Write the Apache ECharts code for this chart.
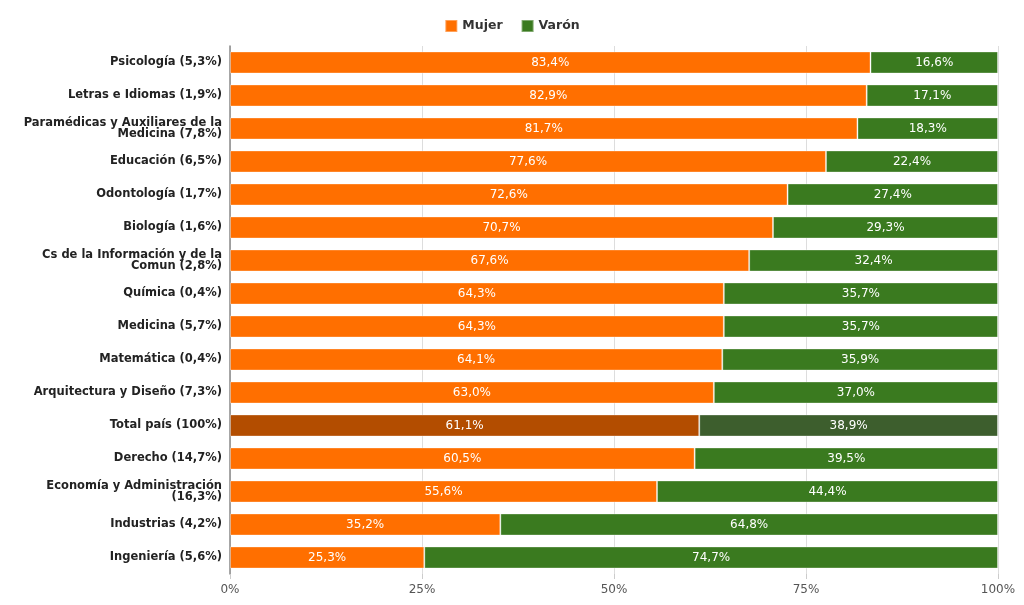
<!DOCTYPE html>
<html><head><meta charset="utf-8">
<script src="https://cdn.jsdelivr.net/npm/echarts@6/dist/echarts.min.js"></script>
<style>html,body{margin:0;padding:0;background:#fff}#c{width:1024px;height:605px}</style>
</head><body><div id="c"></div>
<script>
const categories = [
  "Psicología (5,3%)",
  "Letras e Idiomas (1,9%)",
  "Paramédicas y Auxiliares de la\nMedicina (7,8%)",
  "Educación (6,5%)",
  "Odontología (1,7%)",
  "Biología (1,6%)",
  "Cs de la Información y de la\nComun (2,8%)",
  "Química (0,4%)",
  "Medicina (5,7%)",
  "Matemática (0,4%)",
  "Arquitectura y Diseño (7,3%)",
  "Total país (100%)",
  "Derecho (14,7%)",
  "Economía y Administración\n(16,3%)",
  "Industrias (4,2%)",
  "Ingeniería (5,6%)"
];
const mujer = [83.4,82.9,81.7,77.6,72.6,70.7,67.6,64.3,64.3,64.1,63.0,61.1,60.5,55.6,35.2,25.3];
const varon = [16.6,17.1,18.3,22.4,27.4,29.3,32.4,35.7,35.7,35.9,37.0,38.9,39.5,44.4,64.8,74.7];
const xTicks = ["0%","25%","50%","75%","100%"];
const highlightCategory = "Total país (100%)";

const FONT = "DejaVu Sans, Verdana, sans-serif";
const colMujer = "#FF6F00", colVaron = "#3A7A1F";
const hiMujer = "#B34D00", hiVaron = "#3D5E2D";

function build(vals, hi){
  return vals.map((v,i)=> categories[i]===highlightCategory ? {value:v,itemStyle:{color:hi}} : v);
}
const fmt = p => p.value.toFixed(1).replace('.', ',') + '%';

const chart = echarts.init(document.getElementById('c'));
chart.setOption({
  animation:false,
  textStyle:{fontFamily:FONT},
  legend:{
    top:14, left:'center', itemWidth:12, itemHeight:12, itemGap:18,
    icon:'rect',
    textStyle:{fontFamily:FONT, fontWeight:'bold', fontSize:12.5, color:'#333'},
    data:['Mujer','Varón']
  },
  grid:{left:230, right:26, top:46, bottom:31, containLabel:false},
  xAxis:{
    type:'value', min:0, max:100, interval:25,
    axisLabel:{formatter:v=>xTicks[v/25], color:'#555', fontFamily:FONT, fontSize:12, margin:10},
    axisLine:{show:false},
    axisTick:{show:true, length:5, lineStyle:{color:'#ccc'}},
    splitLine:{show:true, lineStyle:{color:'#ddd'}}
  },
  yAxis:{
    type:'category', data:categories, inverse:true,
    axisLine:{show:true, lineStyle:{color:'#888', width:1.5}},
    axisTick:{show:false},
    axisLabel:{color:'#222', fontWeight:'bold', fontFamily:FONT, fontSize:11.5, lineHeight:11, margin:8, align:'right'}
  },
  series:[
    {name:'Mujer', type:'bar', stack:'t', barCategoryGap:'33%', data:build(mujer,hiMujer),
     itemStyle:{color:colMujer, borderColor:'rgba(255,255,255,0.35)', borderWidth:1},
     label:{show:true, position:'inside', color:'#fff', fontFamily:FONT, fontSize:12, formatter:fmt}},
    {name:'Varón', type:'bar', stack:'t', barCategoryGap:'33%', data:build(varon,hiVaron),
     itemStyle:{color:colVaron, borderColor:'rgba(255,255,255,0.35)', borderWidth:1},
     label:{show:true, position:'inside', color:'#fff', fontFamily:FONT, fontSize:12, formatter:fmt}}
  ]
});
</script></body></html>
